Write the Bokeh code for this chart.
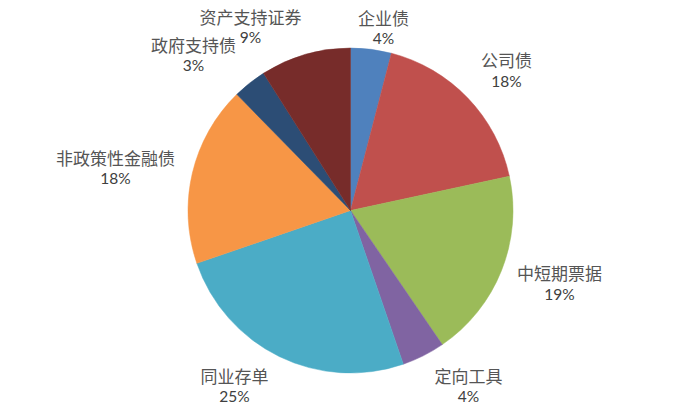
import math
from bokeh.plotting import figure
from bokeh.models import Range1d, ColumnDataSource
from bokeh.core.properties import value
from bokeh.embed import file_html
from bokeh.resources import INLINE

# ---- data ----
categories = ["企业债", "公司债", "中短期票据", "定向工具", "同业存单", "非政策性金融债", "政府支持债", "资产支持证券"]
shares = [4.05, 17.57, 18.83, 4.28, 25.0, 17.94, 3.33, 9.0]
pct_labels = ["4%", "18%", "19%", "4%", "25%", "18%", "3%", "9%"]
colors = ["#4F81BD", "#C0504D", "#9BBB59", "#8064A2", "#4BACC6", "#F79646", "#2C4D75", "#772C2A"]

# ---- layout (pixels, y measured downward from top) ----
W, H = 684, 404
CX, CY_TOP = 350, 210
R = 162.5
LABEL_R = 200
# per-label nudges (dx, dy; y downward)
label_nudge = [(7.6, 15.4), (11.6, -1.6), (23.2, -1.1), (28.2, -3.5),
               (-28.2, -4.5), (-40.4, 3.1), (-32.8, 1.1), (-44.2, 8.4)]

CY = H - CY_TOP

total = sum(shares)
starts, ends, mids = [], [], []
acc = 0.0
for s in shares:
    a0 = acc / total * 2 * math.pi
    acc += s
    a1 = acc / total * 2 * math.pi
    starts.append(math.pi / 2 - a0)
    ends.append(math.pi / 2 - a1)
    mids.append((a0 + a1) / 2)

src = ColumnDataSource(dict(cat=categories, start=starts, end=ends, color=colors))

p = figure(width=W, height=H, output_backend="svg", toolbar_location=None,
           x_range=Range1d(0, W), y_range=Range1d(0, H),
           x_axis_type=None, y_axis_type=None, min_border=0)
p.grid.visible = False
p.outline_line_color = None
p.background_fill_color = "white"
p.border_fill_color = "white"

p.wedge(x=CX, y=CY, radius=R, start_angle="start", end_angle="end",
        direction="clock", fill_color="color", line_color="color",
        line_width=0.5, source=src)

lx, ly1, ly2 = [], [], []
for th, (ndx, ndy) in zip(mids, label_nudge):
    x = CX + LABEL_R * math.sin(th) + ndx
    y = CY + LABEL_R * math.cos(th) - ndy
    lx.append(x)
    ly1.append(y + 10.5)
    ly2.append(y - 10.5)

lab = ColumnDataSource(dict(x=lx, y1=ly1, y2=ly2, cat=categories, pct=pct_labels))
p.text(x="x", y="y1", text="cat", source=lab, text_align="center",
       text_baseline="middle", text_font=value("Noto Sans CJK SC"),
       text_font_size="17px", text_color="#555555")
p.text(x="x", y="y2", text="pct", source=lab, text_align="center",
       text_baseline="middle", text_font=value("Lato"),
       text_font_size="15.5px", text_color="#404040")

open("out.html", "w").write(file_html(p, INLINE))
